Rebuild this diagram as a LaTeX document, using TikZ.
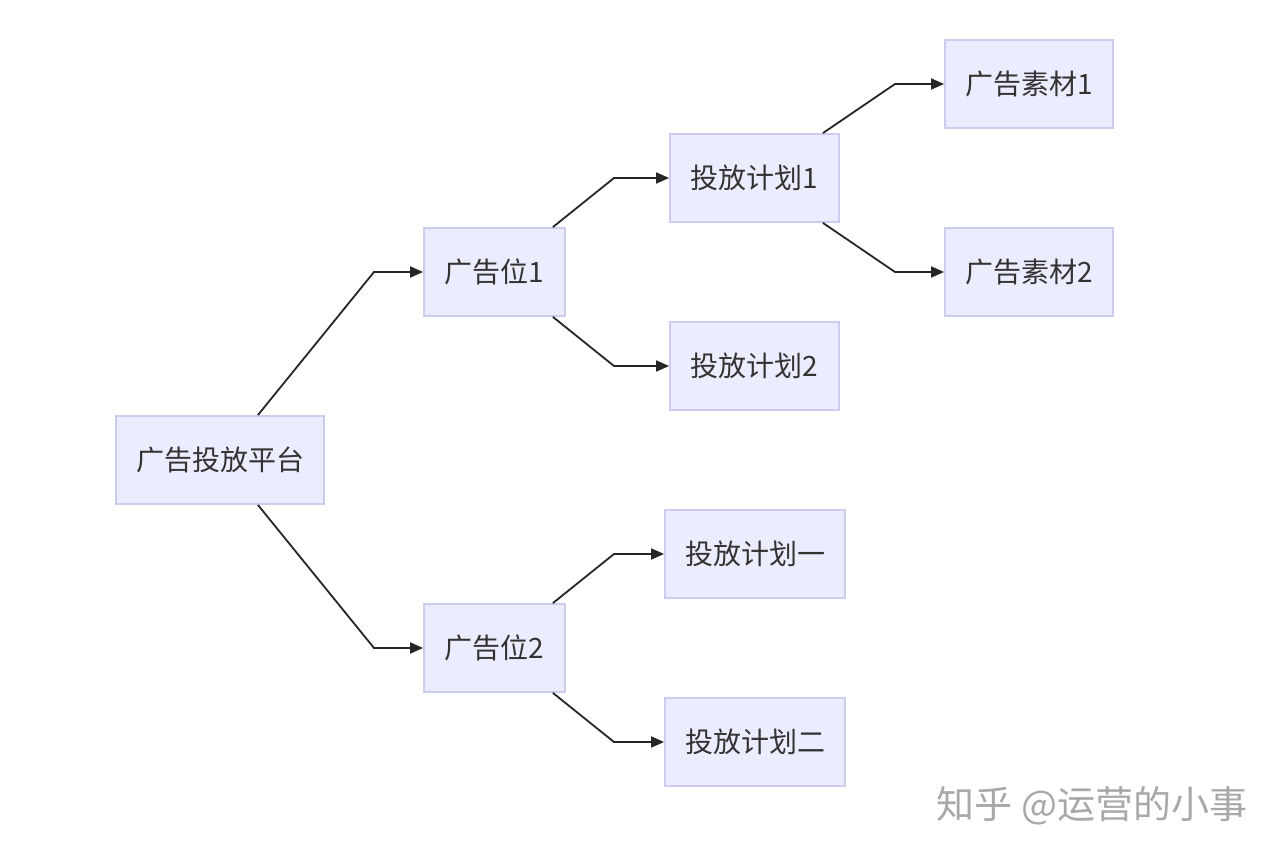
\documentclass[tikz,border=0pt]{standalone}
\usepackage{fontspec}
\newfontfamily\cjk{Noto Sans CJK SC}
\usetikzlibrary{arrows.meta}
\definecolor{boxfill}{HTML}{ECECFF}
\definecolor{boxline}{HTML}{CCCCEE}
\definecolor{txt}{HTML}{333333}
\definecolor{wm}{HTML}{A8A8A8}
\begin{document}
\begin{tikzpicture}[x=1pt,y=-1pt,
  box/.style={draw=boxline,fill=boxfill,line width=1.8pt,minimum height=88pt,inner sep=0pt,
    text=txt,font=\cjk\fontsize{28}{33}\selectfont},
  arr/.style={draw=black!85,line width=1.8pt,-{Triangle[length=13pt,width=11pt]}}]
\useasboundingbox (0,0) rectangle (1280,858);
\node[box,minimum width=208pt] (p) at (220,460) {广告投放平台};
\node[box,minimum width=141pt] (a1) at (494.5,272) {广告位1};
\node[box,minimum width=141pt] (a2) at (494.5,648) {广告位2};
\node[box,minimum width=169pt] (j1) at (754.5,178) {投放计划1};
\node[box,minimum width=169pt] (j2) at (754.5,366) {投放计划2};
\node[box,minimum width=180pt] (ja) at (755,554) {投放计划一};
\node[box,minimum width=180pt] (jb) at (755,742) {投放计划二};
\node[box,minimum width=168pt] (m1) at (1029,84) {广告素材1};
\node[box,minimum width=168pt] (m2) at (1029,272) {广告素材2};
\draw[arr] ([xshift=-67pt]p.north east) -- (374,272) -- (a1.west);
\draw[arr] ([xshift=-67pt]p.south east) -- (374,648) -- (a2.west);
\draw[arr] ([xshift=-13pt]a1.north east) -- (614,178) -- (j1.west);
\draw[arr] ([xshift=-13pt]a1.south east) -- (614,366) -- (j2.west);
\draw[arr] ([xshift=-13pt]a2.north east) -- (614,554) -- (ja.west);
\draw[arr] ([xshift=-13pt]a2.south east) -- (614,742) -- (jb.west);
\draw[arr] ([xshift=-17pt]j1.north east) -- (895,84) -- (m1.west);
\draw[arr] ([xshift=-17pt]j1.south east) -- (895,272) -- (m2.west);
\node[text=wm,font=\cjk\fontsize{38}{44}\selectfont,anchor=center] (w) at (1092,806) {知乎 @运营的小事};
\end{tikzpicture}
\end{document}
